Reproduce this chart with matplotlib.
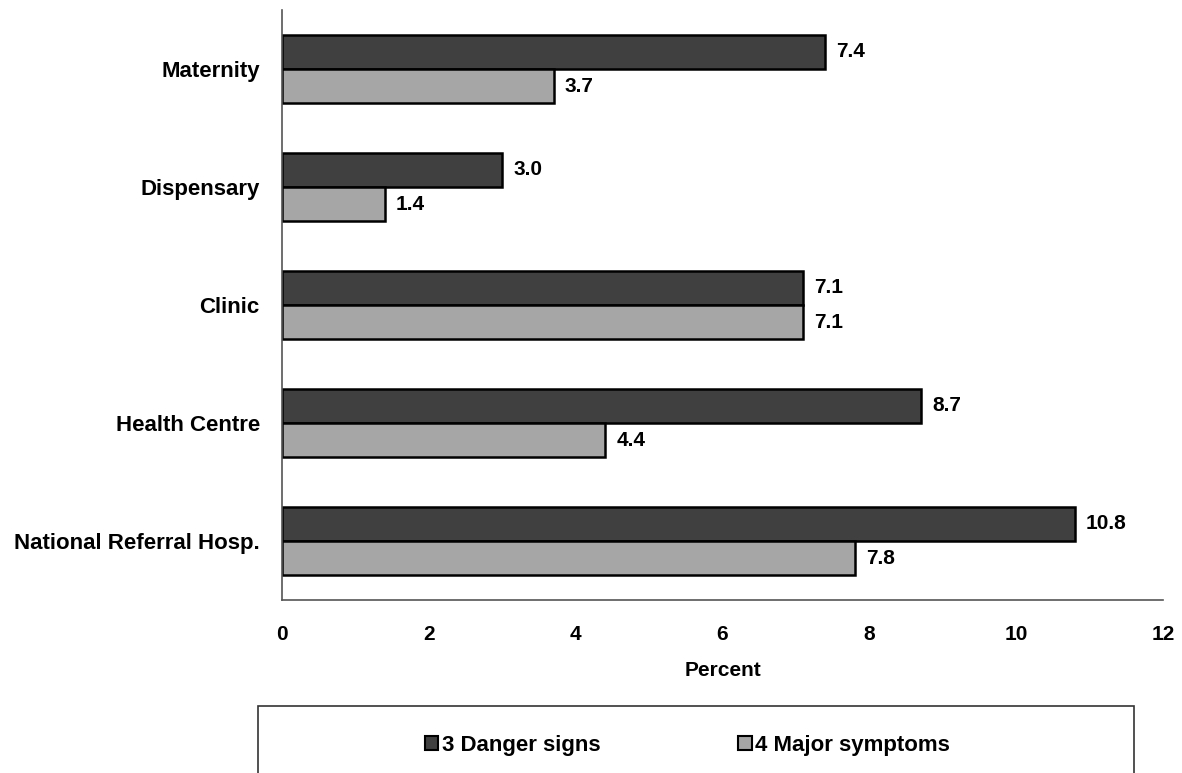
import matplotlib
matplotlib.use("Agg")
import matplotlib.pyplot as plt
from matplotlib.patches import Patch, Rectangle
import numpy as np

plt.rcParams["font.family"] = ["Liberation Sans", "DejaVu Sans"]
plt.rcParams["font.weight"] = "bold"

# data (bottom to top)
categories = ["National Referral Hosp.", "Health Centre", "Clinic", "Dispensary", "Maternity"]
danger_signs = [10.8, 8.7, 7.1, 3.0, 7.4]
major_symptoms = [7.8, 4.4, 7.1, 1.4, 3.7]
series_names = ["3 Danger signs", "4 Major symptoms"]
x_ticks = [0, 2, 4, 6, 8, 10, 12]

dark = "#404040"
light = "#a6a6a6"

fig = plt.figure(figsize=(11.82, 7.73), dpi=100)
ax = fig.add_axes([0.2386, 0.2238, 0.7454, 0.7632])

y = np.arange(len(categories))
h = 0.29
bars1 = ax.barh(y + h / 2, danger_signs, height=h, color=dark, edgecolor="black", linewidth=1.8)
bars2 = ax.barh(y - h / 2, major_symptoms, height=h, color=light, edgecolor="black", linewidth=1.8)

for bars in (bars1, bars2):
    ax.bar_label(bars, fmt="%.1f", padding=8, fontsize=15, fontweight="bold")

ax.set_ylim(-0.5, len(categories) - 0.5)
ax.set_xlim(0, 12)
ax.set_xticks(x_ticks)
ax.set_yticks(y)
ax.set_yticklabels(categories, fontsize=16)
ax.tick_params(axis="both", length=0)
ax.tick_params(axis="x", pad=18, labelsize=15)
ax.tick_params(axis="y", pad=16)
ax.set_xlabel("Percent", fontsize=15, fontweight="bold", labelpad=12)

for side in ("top", "right"):
    ax.spines[side].set_visible(False)
for side in ("left", "bottom"):
    ax.spines[side].set_color("#555555")
    ax.spines[side].set_linewidth(1.2)

# legend box, runs off the bottom of the figure
fig.patches.append(Rectangle((0.218, -0.05), 0.741, 0.1367, transform=fig.transFigure,
                             facecolor="none", edgecolor="#333333", linewidth=1.2))
handles = [Patch(facecolor=dark, edgecolor="black", linewidth=1.5),
           Patch(facecolor=light, edgecolor="black", linewidth=1.5)]
fig.legend(handles, series_names, ncol=2, loc="center", bbox_to_anchor=(0.5816, 0.036),
           frameon=False, handlelength=0.6, handleheight=0.6, handletextpad=0.15,
           columnspacing=6.2, prop={"size": 16, "weight": "bold"})

fig.savefig("out.png", dpi=100)
